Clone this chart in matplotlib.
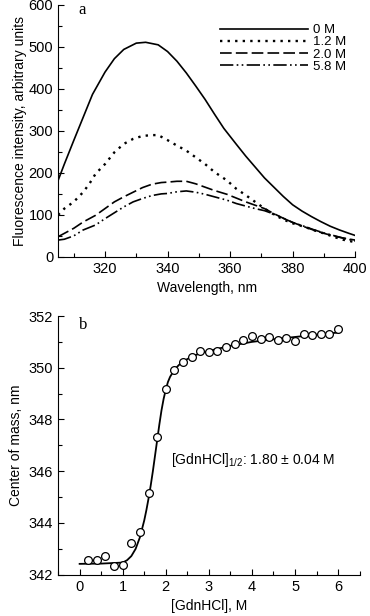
import matplotlib
matplotlib.use("Agg")
import matplotlib.pyplot as plt
from matplotlib.ticker import MultipleLocator

plt.rcParams['font.family'] = ['Liberation Sans', 'DejaVu Sans']
plt.rcParams['mathtext.fontset'] = 'custom'
plt.rcParams['mathtext.rm'] = 'Liberation Sans'

# --- panel a: emission spectra at different GdnHCl concentrations ---
wl_0M = [305, 307, 310, 313, 316, 320, 323, 326, 330, 333, 337, 340, 343, 346, 349,
         352, 355, 358, 362, 365, 368, 371, 374, 377, 380, 383, 386, 389, 392, 395,
         398, 400]
int_0M = [182, 221, 277, 332, 387, 440, 472, 494, 509, 511, 505, 489, 466, 438, 407,
          375, 340, 306, 268, 240, 214, 188, 166, 144, 124, 109, 96, 84, 73, 64,
          56, 51]

wl_12M = [305, 307, 310, 313, 315, 317, 320, 323, 326, 329, 332, 335, 337, 340, 343,
          346, 349, 352, 355, 359, 362, 365, 368, 371, 374, 377, 380, 384, 387, 390,
          393, 396, 400]
int_12M = [100, 115, 131, 154, 174, 198, 221, 249, 269, 281, 288, 290, 290, 278, 265,
           253, 237, 221, 202, 182, 162, 147, 131, 115, 101, 89, 80, 71, 63, 56,
           48, 41, 35]

wl_20M = [305, 307, 310, 313, 317, 320, 323, 326, 329, 332, 335, 338, 340, 343, 346,
          349, 352, 355, 359, 362, 365, 368, 371, 374, 377, 380, 384, 387, 390, 393,
          396, 400]
int_20M = [48, 56, 68, 83, 99, 115, 131, 143, 154, 165, 173, 177, 178, 180, 180,
           174, 166, 158, 149, 140, 131, 123, 115, 103, 92, 82, 71, 63, 56, 50,
           45, 40]

wl_58M = [305, 307, 310, 313, 317, 320, 323, 326, 329, 332, 335, 338, 340, 343, 346,
          349, 352, 355, 359, 362, 365, 368, 371, 374, 377, 380, 384, 387, 390, 393,
          396, 400]
int_58M = [40, 42, 50, 64, 76, 91, 105, 119, 131, 139, 146, 150, 151, 155, 157,
           154, 149, 143, 135, 127, 121, 115, 110, 102, 92, 82, 72, 64, 57, 51,
           45, 38]

# --- panel b: center of spectral mass vs denaturant ---
gdn_points = [0.2, 0.4, 0.6, 0.8, 1.0, 1.2, 1.4, 1.6, 1.8, 2.0, 2.2, 2.4, 2.6, 2.8, 3.0,
              3.2, 3.4, 3.6, 3.8, 4.0, 4.2, 4.4, 4.6, 4.8, 5.0, 5.2, 5.4, 5.6, 5.8, 6.0]
com_points = [342.56, 342.55, 342.71, 342.32, 342.39, 343.22, 343.65, 345.16, 347.32,
              349.19, 349.90, 350.23, 350.42, 350.64, 350.61, 350.64, 350.79, 350.91,
              351.09, 351.22, 351.12, 351.19, 351.06, 351.14, 351.04, 351.31, 351.26,
              351.30, 351.30, 351.51]

fit_x = [0, 0.5, 1.0, 1.1, 1.2, 1.3, 1.4, 1.5, 1.55, 1.6, 1.65, 1.7, 1.75, 1.8, 1.85,
         1.9, 1.95, 2.0, 2.05, 2.1, 2.2, 2.3, 2.4, 2.6, 2.8, 3.0, 3.5, 4.0, 4.5, 5.0,
         5.5, 6.0]
fit_y = [342.42, 342.43, 342.47, 342.56, 342.72, 343.0, 343.45, 344.1, 344.5, 344.95,
         345.45, 346.0, 346.6, 347.2, 347.8, 348.35, 348.8, 349.15, 349.45, 349.65,
         349.92, 350.1, 350.24, 350.43, 350.56, 350.65, 350.85, 351.0, 351.1, 351.19,
         351.28, 351.36]

legend_labels = ["0 M", "1.2 M", "2.0 M", "5.8 M"]

fig = plt.figure(figsize=(3.70, 6.16), dpi=100)
ax_a = fig.add_axes([0.157, 0.583, 0.803, 0.409])
ax_b = fig.add_axes([0.157, 0.067, 0.815, 0.420])


def style_axes(ax):
    for side in ("top", "right"):
        ax.spines[side].set_visible(False)
    ax.tick_params(which="both", direction="in", labelsize=10.5, width=0.8)
    ax.tick_params(which="major", length=4)
    ax.tick_params(which="minor", length=3)


# panel a
lw = 1.2
ax_a.plot(wl_0M, int_0M, color="black", lw=lw, ls="-", label=legend_labels[0])
ax_a.plot(wl_12M, int_12M, color="black", lw=1.7, ls=(0, (1, 2.2)), label=legend_labels[1])
ax_a.plot(wl_20M, int_20M, color="black", lw=lw, ls=(0, (7, 2.5)), label=legend_labels[2])
ax_a.plot(wl_58M, int_58M, color="black", lw=lw, ls=(0, (8, 2, 1, 2, 1, 2)), label=legend_labels[3])
ax_a.set_xlim(305, 400)
ax_a.set_ylim(0, 600)
ax_a.xaxis.set_major_locator(MultipleLocator(20))
ax_a.xaxis.set_minor_locator(MultipleLocator(10))
ax_a.yaxis.set_major_locator(MultipleLocator(100))
ax_a.yaxis.set_minor_locator(MultipleLocator(50))
style_axes(ax_a)
ax_a.set_xlabel("Wavelength, nm", fontsize=10, labelpad=4)
ax_a.set_ylabel("Fluorescence intensity, arbitrary units", fontsize=10, labelpad=1)
ax_a.text(0.068, 1.012, "a", transform=ax_a.transAxes, family="Liberation Serif",
          fontsize=12, va="top", ha="left")
ax_a.legend(loc="upper right", bbox_to_anchor=(354 / 370, 1 - 16 / 616),
            bbox_transform=fig.transFigure, frameon=False, fontsize=9.5,
            handlelength=6.6, handletextpad=0.4, labelspacing=0.0, borderpad=0.1)

# panel b
ax_b.plot(fit_x, fit_y, color="black", lw=1.3, zorder=2)
ax_b.plot(gdn_points, com_points, ls="none", marker="o", ms=5.6, mfc="white",
          mec="black", mew=0.9, zorder=3)
ax_b.set_xlim(-0.5, 6.5)
ax_b.set_ylim(342, 352)
ax_b.xaxis.set_major_locator(MultipleLocator(1))
ax_b.xaxis.set_minor_locator(MultipleLocator(0.5))
ax_b.yaxis.set_major_locator(MultipleLocator(2))
ax_b.yaxis.set_minor_locator(MultipleLocator(1))
style_axes(ax_b)
ax_b.set_xlabel("[GdnHCl], M", fontsize=10, labelpad=4)
ax_b.set_ylabel("Center of mass, nm", fontsize=10, labelpad=4)
ax_b.text(0.07, 0.995, "b", transform=ax_b.transAxes, family="Liberation Serif",
          fontsize=12, va="top", ha="left")
ax_b.text(2.12, 346.45, r"[GdnHCl]$_{\mathregular{1/2}}$: 1.80 ± 0.04 M", fontsize=10,
          va="center", ha="left")

fig.savefig("out.png", dpi=100)
